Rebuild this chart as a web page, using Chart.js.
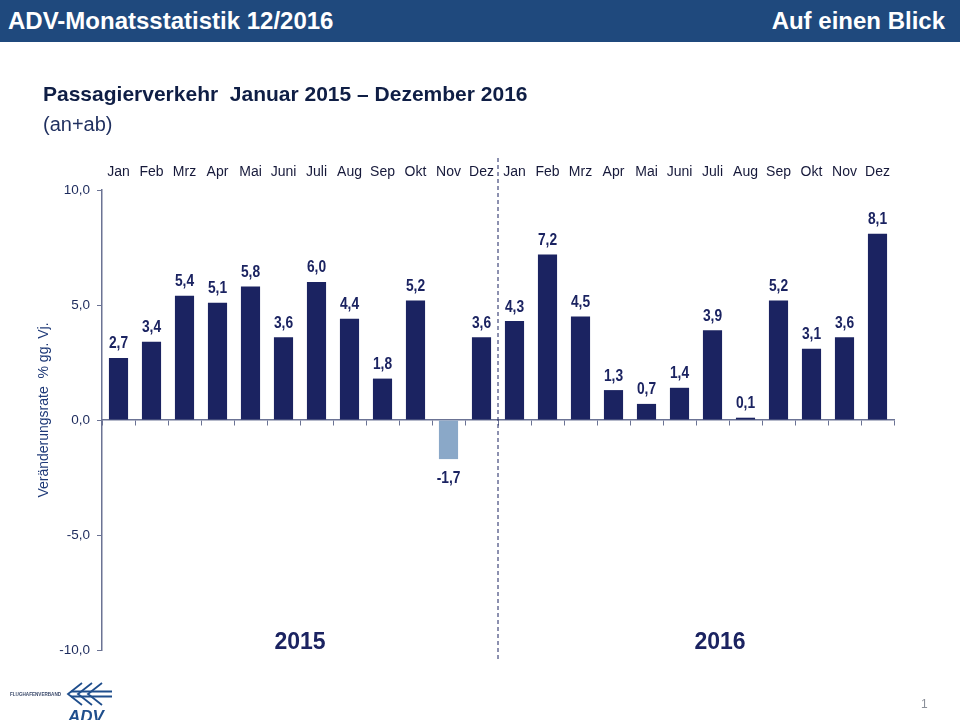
<!DOCTYPE html>
<html>
<head>
<meta charset="utf-8">
<script src="https://cdn.jsdelivr.net/npm/chart.js@4"></script>
<style>
  body { margin: 0; width: 960px; height: 720px; overflow: hidden; background: #fff; position: relative;
         font-family: 'Liberation Sans', Arial, sans-serif; }
  #head { position: absolute; left: 0; top: 0; width: 960px; height: 42px; background: #1F497D; z-index: 2; }
  #head span { position: absolute; top: 7px; color: #fff; font-weight: bold; font-size: 24px; }
  #title { position: absolute; left: 43px; top: 82px; font-size: 21px; font-weight: bold; color: #0F1E45; z-index: 2; }
  #sub { position: absolute; left: 43px; top: 113px; font-size: 20px; color: #1F2F5F; z-index: 2; }
  #page { position: absolute; left: 921px; top: 697px; font-size: 12px; color: #8a8f99; z-index: 2; }
  #logo { position: absolute; left: 8px; top: 680px; z-index: 2; }
  #chart { position: absolute; left: 0; top: 0; z-index: 1; }
</style>
</head>
<body>
<div id="head"><span style="left:8px">ADV-Monatsstatistik 12/2016</span><span style="right:15px">Auf einen Blick</span></div>
<div id="title">Passagierverkehr&nbsp; Januar 2015 – Dezember 2016</div>
<div id="sub">(an+ab)</div>
<div id="page">1</div>
<svg id="logo" width="110" height="40" viewBox="0 0 110 40">
  <text x="2" y="16" font-size="4.6" font-weight="bold" fill="#3b4a6b" font-family="Liberation Sans, Arial">FLUGHAFENVERBAND</text>
  <g fill="none" stroke="#1F4E8C" stroke-width="1.8">
    <path d="M74 3 L60 14 L74 25"/><path d="M84 3 L70 14 L84 25"/><path d="M94 3 L80 14 L94 25"/>
    <path d="M63 11.5 L104 11.5 M63 16.5 L104 16.5"/>
  </g>
  <text x="60" y="42" font-size="17" font-weight="bold" font-style="italic" fill="#1F4E8C" font-family="Liberation Sans, Arial">ADV</text>
</svg>
<canvas id="chart" width="960" height="720"></canvas>
<script>
const months = ['Jan', 'Feb', 'Mrz', 'Apr', 'Mai', 'Juni', 'Juli', 'Aug', 'Sep', 'Okt', 'Nov', 'Dez',
                'Jan', 'Feb', 'Mrz', 'Apr', 'Mai', 'Juni', 'Juli', 'Aug', 'Sep', 'Okt', 'Nov', 'Dez'];
const values = [2.7, 3.4, 5.4, 5.1, 5.8, 3.6, 6.0, 4.4, 1.8, 5.2, -1.7, 3.6,
                4.3, 7.2, 4.5, 1.3, 0.7, 1.4, 3.9, 0.1, 5.2, 3.1, 3.6, 8.1];
const years = ['2015', '2016'];
const yTicks = [-10, -5, 0, 5, 10];
const axisTitle = 'Veränderungsrate  % gg. Vj.';

const NAVY = '#1B2361';
const AXIS = '#6b7394';
const fmt = v => v.toFixed(1).replace('.', ',');

const overlay = {
  id: 'overlay',
  afterDatasetsDraw(chart) {
    const ctx = chart.ctx;
    const x = chart.scales.x;
    const area = chart.chartArea;
    ctx.save();
    ctx.textAlign = 'center';
    ctx.textBaseline = 'middle';

    // month labels on top
    ctx.font = '14px "Liberation Sans", Arial, sans-serif';
    ctx.fillStyle = '#16193a';
    months.forEach((m, i) => ctx.fillText(m, x.getPixelForValue(i), 172));

    // value labels (narrow bold)
    ctx.font = 'bold 16px "Liberation Sans", Arial, sans-serif';
    ctx.fillStyle = NAVY;
    chart.getDatasetMeta(0).data.forEach((bar, i) => {
      const v = values[i];
      ctx.save();
      ctx.translate(bar.x, v >= 0 ? bar.y - 14 : bar.y + 19);
      ctx.scale(0.86, 1);
      ctx.fillText(fmt(v), 0, 0);
      ctx.restore();
    });

    // year divider
    const xd = (x.getPixelForValue(11) + x.getPixelForValue(12)) / 2;
    ctx.strokeStyle = NAVY;
    ctx.lineWidth = 1;
    ctx.setLineDash([4, 3]);
    ctx.beginPath();
    ctx.moveTo(xd, 158);
    ctx.lineTo(xd, 662);
    ctx.stroke();
    ctx.setLineDash([]);

    // year labels
    ctx.font = 'bold 23px "Liberation Sans", Arial, sans-serif';
    ctx.fillStyle = '#1B2361';
    ctx.fillText(years[0], (x.getPixelForValue(5) + x.getPixelForValue(6)) / 2, 643);
    ctx.fillText(years[1], 720, 643);

    // y axis title
    ctx.translate(44, 410);
    ctx.rotate(-Math.PI / 2);
    ctx.font = '14px "Liberation Sans", Arial, sans-serif';
    ctx.fillStyle = '#1F3A78';
    ctx.fillText(axisTitle, 0, 0);
    ctx.restore();
  }
};

new Chart(document.getElementById('chart'), {
  type: 'bar',
  data: {
    labels: months,
    datasets: [{
      data: values,
      backgroundColor: values.map(v => v < 0 ? '#8AA8C8' : NAVY),
      barPercentage: 0.58,
      categoryPercentage: 1.0
    }]
  },
  options: {
    responsive: false,
    animation: false,
    events: [],
    layout: { padding: { left: 0, right: 66, top: 190, bottom: 70 } },
    plugins: { legend: { display: false }, tooltip: { enabled: false } },
    scales: {
      x: {
        position: { y: 0 },
        offset: true,
        ticks: { display: false },
        grid: { offset: true, drawOnChartArea: false, drawTicks: true, tickLength: 5, color: AXIS },
        border: { color: AXIS, width: 1.5 }
      },
      y: {
        min: -10,
        max: 10,
        afterFit: s => { s.width = 102; },
        afterBuildTicks: s => { s.ticks = yTicks.map(v => ({ value: v })); },
        ticks: {
          padding: 7,
          color: '#1c2a5c',
          font: { family: '"Liberation Sans", Arial, sans-serif', size: 13.5 },
          callback: v => fmt(v)
        },
        grid: { drawOnChartArea: false, drawTicks: true, tickLength: 5, color: AXIS },
        border: { color: AXIS, width: 1.5 }
      }
    }
  },
  plugins: [overlay]
});
</script>
</body>
</html>
